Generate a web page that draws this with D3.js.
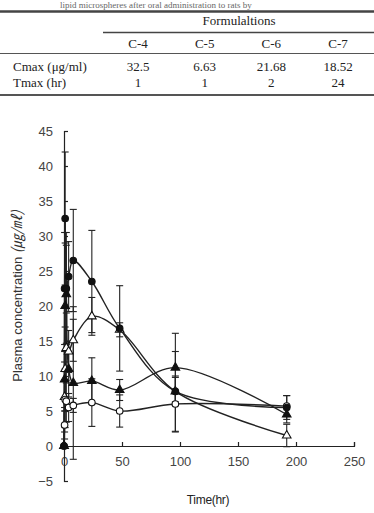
<!DOCTYPE html>
<html>
<head>
<meta charset="utf-8">
<script src="https://cdn.jsdelivr.net/npm/d3@7"></script>
<style>
  body { margin: 0; background: #fff; }
  text { font-family: "Liberation Sans", Arial, sans-serif; }
  .tbl text { font-family: "Liberation Serif", "Times New Roman", serif; font-size: 13px; fill: #222; }
  .axis text { font-size: 13px; fill: #444; }
  .axis path, .axis line { stroke: #222; stroke-width: 1.2; }
</style>
</head>
<body>
<svg id="fig" width="374" height="513"></svg>
<script>
// sampling times (hr)
var times = [0, 0.5, 1, 2, 4, 8, 24, 48, 96, 192];

// mean plasma concentration (ug/ml) per formulation
var c4 = [0, 22.5, 32.5, 22.5, 24.2, 26.5, 23.5, 16.8, 7.8, 5.5];
var c5 = [0, 3.0, 6.63, 6.4, 5.5, 5.8, 6.2, 5.0, 6.0, 5.7];
var c6 = [0, 9.5, 20.0, 21.68, 11.0, 9.0, 9.3, 8.0, 11.2, 4.5];
var c7 = [0, 7.0, 11.0, 14.0, 13.5, 15.1, 18.52, 16.6, 7.8, 1.5];

// standard deviations
var c4Sd = [0, 8.0, 9.5, 8.0, 5.0, 7.3, 7.3, 6.1, 5.7, 1.7];
var c5Sd = [0, 2.0, 4.0, 3.0, 2.0, 1.0, 3.4, 2.3, 4.0, 1.5];
var c6Sd = [0, 4.0, 9.0, 7.0, 4.0, 10.9, 3.3, 1.5, 4.9, 1.2];
var c7Sd = [0, 5.0, 6.0, 5.0, 3.0, 3.0, 2.7, 1.0, 2.0, 1.6];

// table
var formulations = ["C-4", "C-5", "C-6", "C-7"];
var cmaxVals = ["32.5", "6.63", "21.68", "18.52"];
var tmaxVals = ["1", "1", "2", "24"];

// tick labels
var xTicks = [0, 50, 100, 150, 200, 250];
var yTicks = [-5, 0, 5, 10, 15, 20, 25, 30, 35, 40, 45];

var svg = d3.select("#fig");

// ---- table on top ----
var tbl = svg.append("g").attr("class", "tbl");

tbl.append("text")
  .attr("x", 60).attr("y", 7.5)
  .style("fill", "#666").style("font-size", "9px")
  .text("lipid microspheres after oral administration to rats by");

tbl.append("line").attr("x1", 0).attr("x2", 374).attr("y1", 11.5).attr("y2", 11.5)
  .attr("stroke", "#444").attr("stroke-width", 2.5);
tbl.append("line").attr("x1", 103).attr("x2", 374).attr("y1", 32.5).attr("y2", 32.5)
  .attr("stroke", "#444").attr("stroke-width", 1.5);
tbl.append("line").attr("x1", 0).attr("x2", 374).attr("y1", 53.5).attr("y2", 53.5)
  .attr("stroke", "#555").attr("stroke-width", 1.2);
tbl.append("line").attr("x1", 0).attr("x2", 374).attr("y1", 95).attr("y2", 95)
  .attr("stroke", "#555").attr("stroke-width", 2);

var col = d3.scalePoint().domain(formulations).range([138, 338]);

tbl.append("text").attr("x", 239).attr("y", 24.5)
  .attr("text-anchor", "middle").text("Formulaltions");

tbl.selectAll(".hd").data(formulations).enter().append("text")
  .attr("x", function(d) { return col(d); }).attr("y", 47.5)
  .attr("text-anchor", "middle").text(function(d) { return d; });

tbl.append("text").attr("x", 13).attr("y", 70.5).text("Cmax  (μg/ml)");
tbl.append("text").attr("x", 13).attr("y", 86.5).text("Tmax  (hr)");

tbl.selectAll(".cm").data(cmaxVals).enter().append("text")
  .attr("x", function(d, i) { return col(formulations[i]); }).attr("y", 70.5)
  .attr("text-anchor", "middle").text(function(d) { return d; });

tbl.selectAll(".tm").data(tmaxVals).enter().append("text")
  .attr("x", function(d, i) { return col(formulations[i]); }).attr("y", 86.5)
  .attr("text-anchor", "middle").text(function(d) { return d; });

// ---- chart ----
var xScale = d3.scaleLinear().domain([0, 250]).range([64, 354]);
var yScale = d3.scaleLinear().domain([-5, 45]).range([481, 131]);

svg.append("g")
  .attr("class", "x axis")
  .attr("transform", "translate(0," + yScale(0) + ")")
  .call(d3.axisBottom(xScale).tickValues(xTicks).tickSizeInner(-4).tickSizeOuter(-4).tickPadding(11));

svg.append("g")
  .attr("class", "y axis")
  .attr("transform", "translate(" + xScale(0) + ",0)")
  .call(d3.axisLeft(yScale).tickValues(yTicks).tickSizeInner(-4).tickSizeOuter(-4).tickPadding(11));

// drawn back to front, C-4 on top
var series = [
  [c7, c7Sd, "openTri"],
  [c6, c6Sd, "fillTri"],
  [c5, c5Sd, "openCircle"],
  [c4, c4Sd, "fillCircle"]
];

var line = d3.line()
  .x(function(d) { return xScale(d[0]); })
  .y(function(d) { return yScale(d[1]); })
  .curve(d3.curveCatmullRom.alpha(0.5));

var plot = svg.append("g");

// error bars
series.forEach(function(s) {
  var vals = s[0], sds = s[1];
  times.forEach(function(t, i) {
    if (!sds[i]) return;
    var xx = xScale(t);
    var y1 = yScale(vals[i] + sds[i]), y2 = yScale(vals[i] - sds[i]);
    plot.append("line").attr("x1", xx).attr("x2", xx).attr("y1", y1).attr("y2", y2)
      .attr("stroke", "#222").attr("stroke-width", 1.1);
    [y1, y2].forEach(function(yy) {
      plot.append("line").attr("x1", xx - 3.5).attr("x2", xx + 3.5).attr("y1", yy).attr("y2", yy)
        .attr("stroke", "#222").attr("stroke-width", 1.1);
    });
  });
});

// curves
series.forEach(function(s) {
  var pts = times.map(function(t, i) { return [t, s[0][i]]; });
  plot.append("path")
    .datum(pts)
    .attr("fill", "none")
    .attr("stroke", "#222")
    .attr("stroke-width", 1.4)
    .attr("d", line);
});

// markers
series.forEach(function(s) {
  var kind = s[2];
  var pts = times.map(function(t, i) { return [t, s[0][i]]; });
  var tri = (kind == "fillTri" || kind == "openTri");
  var open = (kind == "openCircle" || kind == "openTri");
  plot.selectAll(null).data(pts).enter().append("path")
    .attr("transform", function(d) { return "translate(" + xScale(d[0]) + "," + yScale(d[1]) + ")"; })
    .attr("d", d3.symbol().type(tri ? d3.symbolTriangle : d3.symbolCircle).size(tri ? 32 : 34))
    .attr("fill", open ? "#fff" : "#111")
    .attr("stroke", "#111")
    .attr("stroke-width", 1.1);
});

// axis titles
svg.append("text")
  .attr("x", 208).attr("y", 504)
  .attr("text-anchor", "middle")
  .style("font-size", "12px").style("fill", "#222").style("letter-spacing", "-0.3px")
  .text("Time(hr)");

var yt = svg.append("text")
  .attr("transform", "translate(22,296) rotate(-90)")
  .attr("text-anchor", "middle")
  .style("font-size", "13px").style("fill", "#333");
yt.append("tspan").text("Plasma concentration ");
yt.append("tspan").style("font-family", "'Noto Sans CJK KR'").style("font-size", "14px").style("font-style", "italic").text("(㎍/㎖)");
</script>
</body>
</html>
